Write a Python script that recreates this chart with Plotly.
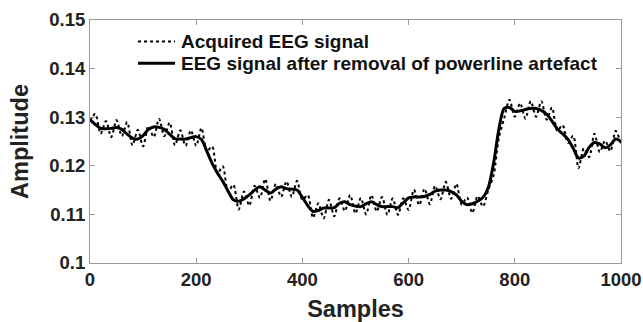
import plotly.graph_objects as go

samples = list(range(0, 1001, 10))

filtered = [
    0.1295, 0.1285, 0.1277, 0.1276, 0.1277, 0.1279, 0.1275, 0.1265, 0.1257, 0.1255,
    0.1262, 0.1275, 0.1280, 0.1279, 0.1275, 0.1265, 0.1256, 0.1255, 0.1255, 0.1258,
    0.1260, 0.1254, 0.1230, 0.1205, 0.1185, 0.1168, 0.1148, 0.1130, 0.1127, 0.1132,
    0.1140, 0.1150, 0.1157, 0.1150, 0.1144, 0.1152, 0.1157, 0.1153, 0.1152, 0.1150,
    0.1135, 0.1118, 0.1106, 0.1108, 0.1113, 0.1113, 0.1114, 0.1123, 0.1126, 0.1120,
    0.1117, 0.1116, 0.1122, 0.1126, 0.1120, 0.1116, 0.1116, 0.1116, 0.1114, 0.1124,
    0.1134, 0.1136, 0.1136, 0.1137, 0.1141, 0.1148, 0.1150, 0.1150, 0.1147, 0.1140,
    0.1127, 0.1120, 0.1122, 0.1127, 0.1135, 0.1155, 0.1205, 0.1275, 0.1318, 0.1320,
    0.1312, 0.1313, 0.1316, 0.1318, 0.1318, 0.1314, 0.1306, 0.1292, 0.1276, 0.1266,
    0.1255, 0.1236, 0.1216, 0.1220, 0.1238, 0.1248, 0.1245, 0.1237, 0.1243, 0.1255,
    0.1250,
]

acquired = [
    0.1292, 0.1307, 0.1266, 0.1292, 0.1259, 0.1294, 0.1261, 0.1290, 0.1242, 0.1274,
    0.1240, 0.1282, 0.1259, 0.1297, 0.1261, 0.1289, 0.1242, 0.1273, 0.1241, 0.1273,
    0.1241, 0.1278, 0.1230, 0.1240, 0.1184, 0.1199, 0.1147, 0.1161, 0.1110, 0.1147,
    0.1118, 0.1159, 0.1134, 0.1173, 0.1128, 0.1163, 0.1136, 0.1168, 0.1136, 0.1169,
    0.1130, 0.1140, 0.1093, 0.1123, 0.1092, 0.1130, 0.1096, 0.1133, 0.1107, 0.1140,
    0.1102, 0.1134, 0.1100, 0.1140, 0.1106, 0.1136, 0.1099, 0.1133, 0.1099, 0.1133,
    0.1109, 0.1151, 0.1119, 0.1153, 0.1121, 0.1159, 0.1131, 0.1167, 0.1132, 0.1163,
    0.1120, 0.1135, 0.1103, 0.1138, 0.1116, 0.1150, 0.1180, 0.1258, 0.1298, 0.1336,
    0.1301, 0.1329, 0.1297, 0.1333, 0.1301, 0.1333, 0.1295, 0.1320, 0.1272, 0.1284,
    0.1247, 0.1262, 0.1195, 0.1236, 0.1218, 0.1266, 0.1228, 0.1252, 0.1230, 0.1272,
    0.1245,
]

series_names = ["Acquired EEG signal", "EEG signal after removal of powerline artefact"]

x_ticks = [0, 200, 400, 600, 800, 1000]
x_tick_text = ["0", "200", "400", "600", "800", "1000"]
y_ticks = [0.10, 0.11, 0.12, 0.13, 0.14, 0.15]
y_tick_text = ["0.1", "0.11", "0.12", "0.13", "0.14", "0.15"]

FONT = "Liberation Sans, Arial, sans-serif"
styles = [dict(color="black", width=2, dash="dot"), dict(color="black", width=3)]

fig = go.Figure()
fig.add_trace(go.Scatter(
    x=samples, y=acquired, mode="lines", name=series_names[0], showlegend=False,
    line=dict(**styles[0], shape="spline", smoothing=0.8),
))
fig.add_trace(go.Scatter(
    x=samples, y=filtered, mode="lines", name=series_names[1], showlegend=False,
    line=dict(**styles[1], shape="spline", smoothing=0.8),
))

# manual legend (tight row spacing like the reference)
leg_x0, leg_x1, leg_tx = 0.0904, 0.160, 0.168
leg_rows = [0.912, 0.822]
for name, style, yy in zip(series_names, styles, leg_rows):
    fig.add_shape(type="line", xref="paper", yref="paper", x0=leg_x0, x1=leg_x1,
                  y0=yy, y1=yy, line=style)
    fig.add_annotation(xref="paper", yref="paper", x=leg_tx, y=yy, text=name,
                       showarrow=False, xanchor="left", yanchor="middle",
                       font=dict(family=FONT, size=19, color="#111", weight="bold"))

axis_common = dict(
    showgrid=False, zeroline=False, showline=True, linecolor="#9a9a9a", linewidth=1,
    mirror="ticks", ticks="inside", ticklen=5, tickcolor="#9a9a9a", tickwidth=1,
    automargin=False,
    tickfont=dict(family=FONT, size=18.5, color="#222", weight="bold"),
)

fig.update_layout(
    width=643, height=322,
    margin=dict(l=90, r=22, t=20, b=59),
    paper_bgcolor="white", plot_bgcolor="white",
    xaxis=dict(range=[0, 1000], tickvals=x_ticks, ticktext=x_tick_text,
               title=dict(text="Samples", font=dict(family=FONT, size=23.5, color="#222", weight="bold"), standoff=14),
               **axis_common),
    yaxis=dict(range=[0.10, 0.15], tickvals=y_ticks, ticktext=y_tick_text,
               title=dict(text="Amplitude", font=dict(family=FONT, size=23.5, color="#222", weight="bold"), standoff=14),
               **axis_common),
    showlegend=False,
)

fig.write_html("out.html")
